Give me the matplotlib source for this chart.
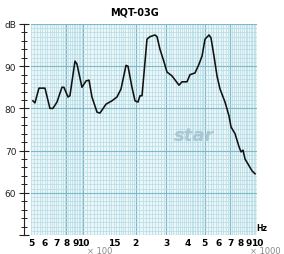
import matplotlib.pyplot as plt
import numpy as np

# frequency response (Hz, dB)
freq = [513, 527, 556, 602, 643, 669, 706, 754, 774, 817, 838, 896, 920, 983,
        1037, 1079, 1122, 1200, 1248, 1352, 1463, 1563, 1649, 1762, 1809, 1907,
        1985, 2065, 2121, 2178, 2327, 2421, 2587, 2657, 2764, 2916, 3034, 3241,
        3556, 3700, 3954, 4116, 4398, 4637, 4825, 5020, 5295, 5433, 5654, 5884,
        6123, 6543, 6900, 7087, 7472, 7879, 8091, 8307, 8530, 8878, 9361, 9742]
spl = [81.8, 81.3, 84.8, 84.8, 80.0, 80.0, 81.5, 85.0, 85.0, 82.7, 83.0, 91.2,
       90.5, 85.0, 86.5, 86.7, 82.7, 79.1, 78.9, 81.0, 81.8, 82.7, 84.6, 90.2,
       90.0, 85.0, 81.8, 81.5, 83.0, 83.0, 96.4, 97.0, 97.4, 97.0, 94.0, 91.0,
       88.6, 87.7, 85.5, 86.3, 86.3, 88.0, 88.4, 90.5, 92.4, 96.4, 97.4, 96.7,
       92.4, 87.7, 84.6, 81.5, 78.2, 75.6, 74.0, 70.9, 69.7, 70.1, 68.0, 66.8,
       65.2, 64.5]

xtick_pos = [500, 600, 700, 800, 900, 1000, 1500, 2000, 3000, 4000, 5000,
             6000, 7000, 8000, 9000, 10000]
xtick_lab = ['5', '6', '7', '8', '9', '10', '15', '2', '3', '4', '5', '6', '7',
             '8', '9', '10']

fig = plt.figure(figsize=(2.84, 2.55), dpi=100)
ax = fig.add_axes([0.109, 0.0745, 0.796, 0.8275])
ax.set_xscale('log')
ax.set_xlim(500, 10000)
ax.set_ylim(50, 100)
ax.set_facecolor('#eaf6f8')

# graph paper grid
minor_lines = list(range(500, 1000, 20)) + list(range(1000, 2000, 50)) + \
    list(range(2000, 5000, 100)) + list(range(5000, 10001, 200))
for f in minor_lines:
    ax.axvline(f, color='#b4dbe4', lw=0.5, zorder=1)
for f in [800, 1000, 2000, 3000, 5000, 7000]:
    ax.axvline(f, color='#7db9c9', lw=0.8, zorder=1)
for d in range(50, 101):
    ax.axhline(d, color='#b4dbe4', lw=0.5, zorder=1)
for d in range(50, 101, 10):
    ax.axhline(d, color='#7db9c9', lw=0.8, zorder=1)

ax.plot(freq, spl, color='#111111', lw=1.15, zorder=3)

ax.text(3300, 72.5, 'star', color='#a9c6d2', fontsize=13, fontweight='bold',
        style='italic', zorder=2)

for s in ['top', 'right', 'bottom']:
    ax.spines[s].set_visible(False)
ax.spines['left'].set_position(('outward', 5))
ax.spines['left'].set_color('#222222')

ax.set_yticks([50, 60, 70, 80, 90, 100])
ax.set_yticklabels(['', '60', '70', '80', '90', 'dB'])
ax.set_yticks(np.arange(50, 101, 2), minor=True)
ax.tick_params(axis='y', which='major', direction='inout', length=7, width=0.8,
               labelsize=6.5, pad=2, colors='#222222')
ax.tick_params(axis='y', which='minor', direction='inout', length=4, width=0.7,
               colors='#222222')

ax.set_xticks(xtick_pos)
ax.set_xticklabels(xtick_lab)
ax.xaxis.set_minor_locator(plt.NullLocator())
ax.tick_params(axis='x', length=0, labelsize=6.5, pad=2)
for t in ax.get_xticklabels():
    t.set_fontweight('bold')

fig.text(0.475, 0.95, 'MQT-03G', fontsize=7, fontweight='bold',
         ha='center', va='center')
fig.text(0.922, 0.105, 'Hz', fontsize=5.5, fontweight='bold',
         ha='center', va='center')
fig.text(0.35, 0.015, '× 100', fontsize=6, color='#888888',
         ha='center', va='center')
fig.text(0.935, 0.015, '× 1000', fontsize=6, color='#888888',
         ha='center', va='center')

fig.savefig('out.png', dpi=100)
